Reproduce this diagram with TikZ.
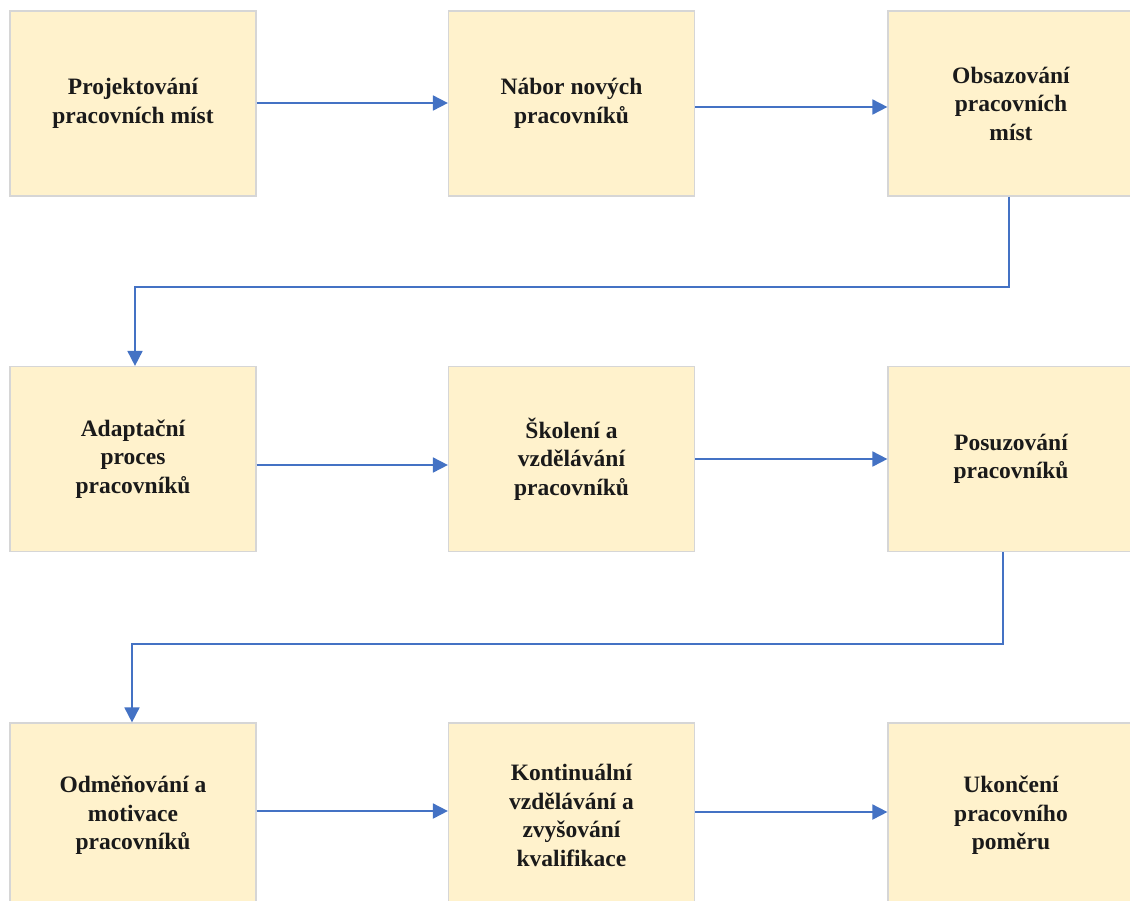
\documentclass[tikz,border=0pt]{standalone}
\usepackage{fontspec}
\setmainfont{Liberation Serif}
\usetikzlibrary{arrows.meta}
\definecolor{boxfill}{HTML}{FFF2CC}
\definecolor{boxline}{HTML}{D6D6D6}
\definecolor{arrowc}{HTML}{4472C4}
\definecolor{txt}{HTML}{1A1A1A}
\begin{document}
\begin{tikzpicture}[x=1pt,y=1pt,
  stepbox/.style={draw=boxline,line width=1.2pt,fill=boxfill,minimum width=246pt,minimum height=185pt,
    inner sep=0pt,align=center,text=txt,font=\fontsize{23.5}{28.5}\selectfont\bfseries},
  flow/.style={draw=arrowc,line width=1.8pt,-{Triangle[length=15pt,width=15pt]}}]
\useasboundingbox (0,0) rectangle (1130,-900);
\fill[white] (0,0) rectangle (1130,-900);
\clip (0,0) rectangle (1130,-900);
\node[stepbox] (b1) at (133,-103.5) {Projektování\\pracovních míst};
\node[stepbox] (b2) at (571.5,-103.5) {Nábor nových\\pracovníků};
\node[stepbox] (b3) at (1011,-103.5) {Obsazování\\pracovních\\míst};
\node[stepbox] (b4) at (133,-459) {Adaptační\\proces\\pracovníků};
\node[stepbox] (b5) at (571.5,-459) {Školení a\\vzdělávání\\pracovníků};
\node[stepbox] (b6) at (1011,-459) {Posuzování\\pracovníků};
\node[stepbox] (b7) at (133,-815.5) {Odměňování a\\motivace\\pracovníků};
\node[stepbox] (b8) at (571.5,-815.5) {Kontinuální\\vzdělávání a\\zvyšování\\kvalifikace};
\node[stepbox] (b9) at (1011,-815.5) {Ukončení\\pracovního\\poměru};
\draw[flow] ([yshift=0.5pt]b1.east) -- ([yshift=0.5pt]b2.west);
\draw[flow] ([yshift=-3.5pt]b2.east) -- ([yshift=-3.5pt]b3.west);
\draw[flow] ([xshift=-2pt]b3.south) -- ++(0,-90) -| ([xshift=2pt]b4.north);
\draw[flow] ([yshift=-6pt]b4.east) -- ([yshift=-6pt]b5.west);
\draw[flow] (b5.east) -- (b6.west);
\draw[flow] ([xshift=-8pt]b6.south) -- ++(0,-92) -| ([xshift=-1pt]b7.north);
\draw[flow] ([yshift=4.5pt]b7.east) -- ([yshift=4.5pt]b8.west);
\draw[flow] ([yshift=3.5pt]b8.east) -- ([yshift=3.5pt]b9.west);
\end{tikzpicture}
\end{document}
